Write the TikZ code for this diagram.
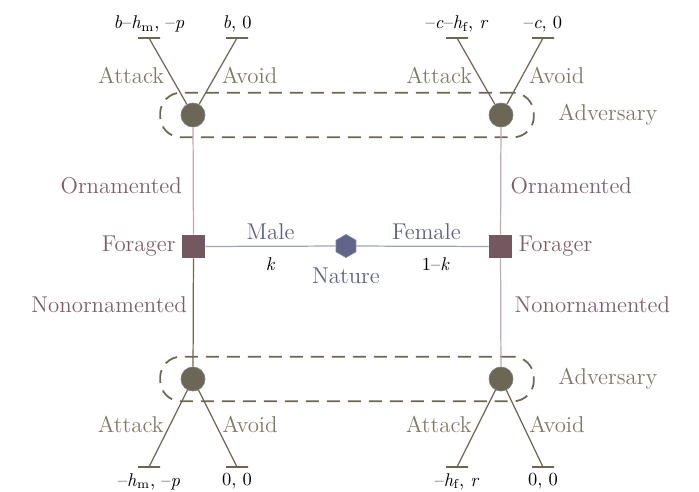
\documentclass[tikz,border=0pt]{standalone}
\usepackage{tikz}
\usetikzlibrary{shapes,positioning,fit,backgrounds,calc}
\definecolor{advfill}{HTML}{6B6656}
\definecolor{advtext}{HTML}{7D7A66}
\definecolor{leafc}{HTML}{6F6553}
\definecolor{forfill}{HTML}{735860}
\definecolor{fortext}{HTML}{7C6066}
\definecolor{forline}{HTML}{C4A6B6}
\definecolor{natfill}{HTML}{62658A}
\definecolor{nattext}{HTML}{5B6285}
\definecolor{natline}{HTML}{9EA3BD}
\tikzstyle{advnode}  =[circle, fill=advfill, draw=advfill!85!white, minimum size=0.48cm, inner sep=0pt]
\tikzstyle{fornode}  =[rectangle, fill=forfill, minimum size=0.46cm, inner sep=0pt]
\tikzstyle{natnode}  =[regular polygon, regular polygon sides=6, shape border rotate=30, fill=natfill, draw=natfill!80!white, minimum size=0.46cm, inner sep=0pt]
\tikzstyle{leaf}     =[draw=leafc, line width=0.9pt, minimum width=0.44cm, minimum height=0pt, inner sep=0pt, outer sep=0pt]
\tikzstyle{leafedge} =[draw=leafc, line width=0.7pt]
\tikzstyle{advbox}   =[draw=leafc, line width=1pt, dash pattern=on 0.26cm off 0.16cm, rounded corners=0.42cm, inner xsep=0.41cm, inner ysep=0.2cm]
\tikzstyle{advtxt}   =[text=advtext]
\tikzstyle{fortxt}   =[text=fortext]
\tikzstyle{nattxt}   =[text=nattext]
\tikzstyle{payoff}   =[text=black, font=\fontsize{10.5}{12}\selectfont]

\begin{document}
\begin{tikzpicture}[x=0.02cm, y=-0.02cm, every node/.style={font=\fontsize{13}{15}\selectfont}]
  \useasboundingbox (0,0) rectangle (699,491);

  % ── nature and foragers ───────────────────────────────────────────────────
  \node[natnode, label={[nattxt, label distance=2pt]below:Nature}] (nat) at (346, 246) {};
  \node[fornode, label={[fortxt]left:Forager}]  (forM) at (193.5, 246.5) {};
  \node[fornode, label={[fortxt]right:Forager}] (forF) at (500.5, 246.5) {};

  % ── adversaries ──────────────────────────────────────────────────────────
  \node[advnode] (advMO) at (193, 115) {};
  \node[advnode] (advFO) at (501, 115) {};
  \node[advnode] (advMN) at (193, 379) {};
  \node[advnode] (advFN) at (501, 379) {};

  \node[advbox, fit=(advMO)(advFO)] (infoO) {};
  \node[advbox, fit=(advMN)(advFN)] (infoN) {};
  \node[advtxt, right=0.35cm of infoO] (labO) {Adversary};
  \node[advtxt, right=0.35cm of infoN] (labN) {Adversary};

  % ── leaves ───────────────────────────────────────────────────────────────
  \node[leaf, label={[payoff]above:\textit{b}--\textit{h}\textsubscript{m}, --\textit{p}}] (lMOa) at (149, 38) {};
  \node[leaf, label={[payoff]above:\textit{b}, 0}]                                      (lMOv) at (237, 38) {};
  \node[leaf, label={[payoff]above:--\textit{c}--\textit{h}\textsubscript{f}, \textit{r}}] (lFOa) at (457, 38) {};
  \node[leaf, label={[payoff]above:--\textit{c}, 0}]                                    (lFOv) at (543, 38) {};
  \node[leaf, label={[payoff]below:--\textit{h}\textsubscript{m}, --\textit{p}}]        (lMNa) at (149, 467) {};
  \node[leaf, label={[payoff]below:0, 0}]                                               (lMNv) at (237, 467) {};
  \node[leaf, label={[payoff]below:--\textit{h}\textsubscript{f}, \textit{r}}]          (lFNa) at (457, 467) {};
  \node[leaf, label={[payoff]below:0, 0}]                                               (lFNv) at (543, 467) {};

  % ── edges ────────────────────────────────────────────────────────────────
  \draw[natline, line width=0.7pt] (nat) -- node[nattxt, pos=0.5, above]{Male} node[payoff, pos=0.5, below=0.1cm]{\textit{k}} (forM);
  \draw[natline, line width=0.7pt] (nat) -- node[nattxt, pos=0.53, above]{Female} node[payoff, pos=0.6, below=0.1cm]{1--\textit{k}} (forF);

  \draw[forline, line width=0.7pt] (forM) -- node[fortxt, pos=0.46, left=0.1cm]{Ornamented} (advMO);
  \draw[leafc, line width=0.7pt]   (forM) -- node[fortxt, pos=0.43, left]{Nonornamented} (advMN);
  \draw[forline, line width=0.7pt] (forF) -- node[fortxt, pos=0.46, right=0.07cm]{Ornamented} (advFO);
  \draw[forline, line width=0.7pt] (forF) -- node[fortxt, pos=0.43, right=0.15cm]{Nonornamented} (advFN);

  \draw[leafedge] (advMO) -- node[advtxt, pos=0.43, left]{Attack} (lMOa);
  \draw[leafedge] (advMO) -- node[advtxt, pos=0.43, right]{Avoid} (lMOv);
  \draw[leafedge] (advFO) -- node[advtxt, pos=0.43, left]{Attack} (lFOa);
  \draw[leafedge] (advFO) -- node[advtxt, pos=0.43, right]{Avoid} (lFOv);
  \draw[leafedge] (advMN) -- node[advtxt, pos=0.45, left]{Attack} (lMNa);
  \draw[leafedge] (advMN) -- node[advtxt, pos=0.45, right]{Avoid} (lMNv);
  \draw[leafedge] (advFN) -- node[advtxt, pos=0.45, left]{Attack} (lFNa);
  \draw[leafedge] (advFN) -- node[advtxt, pos=0.45, right]{Avoid} (lFNv);

\end{tikzpicture}
\end{document}
